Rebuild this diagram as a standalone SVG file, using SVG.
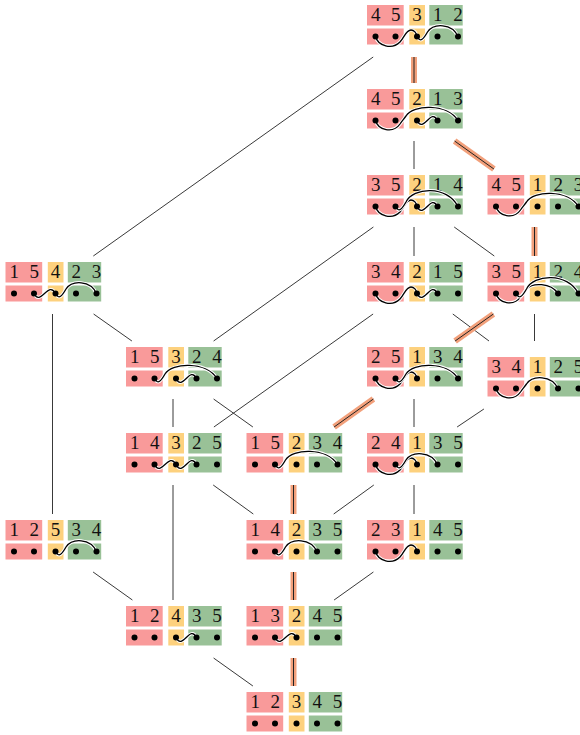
<svg xmlns="http://www.w3.org/2000/svg" width="580" height="735" viewBox="0 0 580 735">
<style>
.r{fill:#f99a9a}.y{fill:#fdd17e}.g{fill:#99c197}
.t{font-family:"Liberation Serif","Times New Roman",serif;font-size:19px;fill:#111;text-anchor:middle}
.h{fill:none;stroke:#fff;stroke-width:3.2}
.k{fill:none;stroke:#000;stroke-width:1.3;stroke-linecap:round}
.e{stroke:#222;stroke-width:0.9;fill:none}
.o{stroke:#f2a07b;stroke-width:6;fill:none}
.oc{stroke:#222;stroke-width:1;fill:none}
</style>
<defs>
<g id="bx">
<rect class="r" x="0" y="0" width="36.7" height="20.5"/>
<rect class="y" x="42.3" y="0" width="15.7" height="20.5"/>
<rect class="g" x="62.3" y="0" width="33.4" height="20.5"/>
<rect class="r" x="0" y="23.5" width="36.7" height="16"/>
<rect class="y" x="42.3" y="23.5" width="15.7" height="16"/>
<rect class="g" x="62.3" y="23.5" width="33.4" height="16"/>
</g>
<g id="dt" fill="#000">
<circle cx="8.5" cy="31.5" r="3"/><circle cx="28.5" cy="31.5" r="3"/><circle cx="50" cy="31.5" r="3"/><circle cx="70.5" cy="31.5" r="3"/><circle cx="91" cy="31.5" r="3"/>
</g>
<path id="a23" d="M28.5,31.5 C35,45 43,18 50,31.5"/>
<path id="a34" d="M50,31.5 C56.5,45 64,18 70.5,31.5"/>
<path id="a13" d="M8.5,31.5 C11,41 25,45 33,37 C37,33 39,25 44,25 C47,25 49.5,28 50,31.5"/>
<path id="a35" d="M50,31.5 C53.5,38 56.5,34 60.5,27 C66.5,18 85,18 91,31.5"/>
<path id="a24" d="M28.5,31.5 C32,38 35,34 39,27 C45,18 64,18 70.5,31.5"/>
<path id="a14" d="M8.5,31.5 C11,41 26,45 33,35 C35,32 36.5,30.5 39,27 C45,18 64,18 70.5,31.5"/>
<path id="a14i" d="M8.5,31.5 C11,41 26,45 33,35 C35,32 36.5,30.5 39,27 C45,20.5 63,20.5 70.5,31.5"/>
<path id="a15" d="M8.5,31.5 C11,41 26,45 33,35 C35,32 36.5,30.5 39,27 C46,15.5 80,14 91,31.5"/>
<path id="a25" d="M28.5,31.5 C32,38 35,34 39,27 C46,15.5 80,14 91,31.5"/>
<path id="a25h" d="M28.5,31.5 C32,38 35,34 39,27 C46,12 80,10 91,31.5"/>
</defs>

<g id="connectors">
<line class="e" x1="373.2" y1="57" x2="93.3" y2="256"/>
<line class="e" x1="414" y1="141" x2="414" y2="169"/>
<line class="e" x1="414" y1="227" x2="414" y2="256"/>
<line class="e" x1="454.2" y1="227" x2="494.3" y2="256"/>
<line class="e" x1="373.4" y1="227" x2="213.6" y2="341"/>
<line class="e" x1="93.6" y1="314" x2="131.9" y2="341"/>
<line class="e" x1="52.5" y1="314" x2="52.5" y2="514"/>
<line class="e" x1="373.1" y1="314" x2="213.9" y2="427"/>
<line class="e" x1="452.8" y1="314" x2="489" y2="341"/>
<line class="e" x1="534.5" y1="314" x2="534.5" y2="341"/>
<line class="e" x1="173" y1="399" x2="173" y2="427"/>
<line class="e" x1="213.6" y1="399" x2="252.9" y2="427"/>
<line class="e" x1="414" y1="399" x2="414" y2="427"/>
<line class="e" x1="483.9" y1="409" x2="457.1" y2="427"/>
<line class="e" x1="173" y1="485" x2="173" y2="600"/>
<line class="e" x1="213.2" y1="485" x2="253.3" y2="514"/>
<line class="e" x1="373.8" y1="485" x2="333.7" y2="514"/>
<line class="e" x1="414" y1="485" x2="414" y2="514"/>
<line class="e" x1="93.1" y1="572" x2="132.4" y2="600"/>
<line class="e" x1="373.4" y1="572" x2="334.1" y2="600"/>
<line class="e" x1="213.6" y1="658" x2="252.9" y2="686"/>
<g id="chain">
<line class="o" x1="414" y1="57" x2="414" y2="83"/><line class="oc" x1="414" y1="57" x2="414" y2="83"/>
<line class="o" x1="454.6" y1="141" x2="493.9" y2="169"/><line class="oc" x1="454.6" y1="141" x2="493.9" y2="169"/>
<line class="o" x1="534.5" y1="227" x2="534.5" y2="256"/><line class="oc" x1="534.5" y1="227" x2="534.5" y2="256"/>
<line class="o" x1="493.4" y1="314" x2="455.1" y2="341"/><line class="oc" x1="493.4" y1="314" x2="455.1" y2="341"/>
<line class="o" x1="373.4" y1="399" x2="334.1" y2="427"/><line class="oc" x1="373.4" y1="399" x2="334.1" y2="427"/>
<line class="o" x1="293.5" y1="485" x2="293.5" y2="514"/><line class="oc" x1="293.5" y1="485" x2="293.5" y2="514"/>
<line class="o" x1="293.5" y1="572" x2="293.5" y2="600"/><line class="oc" x1="293.5" y1="572" x2="293.5" y2="600"/>
<line class="o" x1="293.5" y1="658" x2="293.5" y2="686"/><line class="oc" x1="293.5" y1="658" x2="293.5" y2="686"/>
</g>
</g>

<g id="n45312" transform="translate(367,5)"><use href="#bx"/><text class="t" y="16.3"><tspan x="8.8">4</tspan><tspan x="28.8">5</tspan><tspan x="50">3</tspan><tspan x="70.8">1</tspan><tspan x="91">2</tspan></text><use href="#a35" class="h"/><use href="#a35" class="k"/><use href="#a13" class="h"/><use href="#a13" class="k"/><use href="#dt"/></g>
<g id="n45213" transform="translate(367,89)"><use href="#bx"/><text class="t" y="16.3"><tspan x="8.8">4</tspan><tspan x="28.8">5</tspan><tspan x="50">2</tspan><tspan x="70.8">1</tspan><tspan x="91">3</tspan></text><use href="#a34" class="h"/><use href="#a34" class="k"/><use href="#a15" class="h"/><use href="#a15" class="k"/><use href="#dt"/></g>
<g id="n35214" transform="translate(367,175)"><use href="#bx"/><text class="t" y="16.3"><tspan x="8.8">3</tspan><tspan x="28.8">5</tspan><tspan x="50">2</tspan><tspan x="70.8">1</tspan><tspan x="91">4</tspan></text><use href="#a34" class="h"/><use href="#a34" class="k"/><use href="#a13" class="h"/><use href="#a13" class="k"/><use href="#a25h" class="h"/><use href="#a25h" class="k"/><use href="#dt"/></g>
<g id="n45123" transform="translate(487.5,175)"><use href="#bx"/><text class="t" y="16.3"><tspan x="8.8">4</tspan><tspan x="28.8">5</tspan><tspan x="50">1</tspan><tspan x="70.8">2</tspan><tspan x="91">3</tspan></text><use href="#a15" class="h"/><use href="#a15" class="k"/><use href="#dt"/></g>
<g id="n15423" transform="translate(5.5,262)"><use href="#bx"/><text class="t" y="16.3"><tspan x="8.8">1</tspan><tspan x="28.8">5</tspan><tspan x="50">4</tspan><tspan x="70.8">2</tspan><tspan x="91">3</tspan></text><use href="#a23" class="h"/><use href="#a23" class="k"/><use href="#a35" class="h"/><use href="#a35" class="k"/><use href="#dt"/></g>
<g id="n34215" transform="translate(367,262)"><use href="#bx"/><text class="t" y="16.3"><tspan x="8.8">3</tspan><tspan x="28.8">4</tspan><tspan x="50">2</tspan><tspan x="70.8">1</tspan><tspan x="91">5</tspan></text><use href="#a34" class="h"/><use href="#a34" class="k"/><use href="#a13" class="h"/><use href="#a13" class="k"/><use href="#dt"/></g>
<g id="n35124" transform="translate(487.5,262)"><use href="#bx"/><text class="t" y="16.3"><tspan x="8.8">3</tspan><tspan x="28.8">5</tspan><tspan x="50">1</tspan><tspan x="70.8">2</tspan><tspan x="91">4</tspan></text><use href="#a14i" class="h"/><use href="#a14i" class="k"/><use href="#a25h" class="h"/><use href="#a25h" class="k"/><use href="#dt"/></g>
<g id="n15324" transform="translate(126,347)"><use href="#bx"/><text class="t" y="16.3"><tspan x="8.8">1</tspan><tspan x="28.8">5</tspan><tspan x="50">3</tspan><tspan x="70.8">2</tspan><tspan x="91">4</tspan></text><use href="#a34" class="h"/><use href="#a34" class="k"/><use href="#a25" class="h"/><use href="#a25" class="k"/><use href="#dt"/></g>
<g id="n25134" transform="translate(367,347)"><use href="#bx"/><text class="t" y="16.3"><tspan x="8.8">2</tspan><tspan x="28.8">5</tspan><tspan x="50">1</tspan><tspan x="70.8">3</tspan><tspan x="91">4</tspan></text><use href="#a13" class="h"/><use href="#a13" class="k"/><use href="#a25" class="h"/><use href="#a25" class="k"/><use href="#dt"/></g>
<g id="n34125" transform="translate(487.5,357)"><use href="#bx"/><text class="t" y="16.3"><tspan x="8.8">3</tspan><tspan x="28.8">4</tspan><tspan x="50">1</tspan><tspan x="70.8">2</tspan><tspan x="91">5</tspan></text><use href="#a14" class="h"/><use href="#a14" class="k"/><use href="#dt"/></g>
<g id="n14325" transform="translate(126,433)"><use href="#bx"/><text class="t" y="16.3"><tspan x="8.8">1</tspan><tspan x="28.8">4</tspan><tspan x="50">3</tspan><tspan x="70.8">2</tspan><tspan x="91">5</tspan></text><use href="#a23" class="h"/><use href="#a23" class="k"/><use href="#a34" class="h"/><use href="#a34" class="k"/><use href="#dt"/></g>
<g id="n15234" transform="translate(246.5,433)"><use href="#bx"/><text class="t" y="16.3"><tspan x="8.8">1</tspan><tspan x="28.8">5</tspan><tspan x="50">2</tspan><tspan x="70.8">3</tspan><tspan x="91">4</tspan></text><use href="#a25" class="h"/><use href="#a25" class="k"/><use href="#dt"/></g>
<g id="n24135" transform="translate(367,433)"><use href="#bx"/><text class="t" y="16.3"><tspan x="8.8">2</tspan><tspan x="28.8">4</tspan><tspan x="50">1</tspan><tspan x="70.8">3</tspan><tspan x="91">5</tspan></text><use href="#a13" class="h"/><use href="#a13" class="k"/><use href="#a24" class="h"/><use href="#a24" class="k"/><use href="#dt"/></g>
<g id="n12534" transform="translate(5.5,520)"><use href="#bx"/><text class="t" y="16.3"><tspan x="8.8">1</tspan><tspan x="28.8">2</tspan><tspan x="50">5</tspan><tspan x="70.8">3</tspan><tspan x="91">4</tspan></text><use href="#a35" class="h"/><use href="#a35" class="k"/><use href="#dt"/></g>
<g id="n14235" transform="translate(246.5,520)"><use href="#bx"/><text class="t" y="16.3"><tspan x="8.8">1</tspan><tspan x="28.8">4</tspan><tspan x="50">2</tspan><tspan x="70.8">3</tspan><tspan x="91">5</tspan></text><use href="#a24" class="h"/><use href="#a24" class="k"/><use href="#dt"/></g>
<g id="n23145" transform="translate(367,520)"><use href="#bx"/><text class="t" y="16.3"><tspan x="8.8">2</tspan><tspan x="28.8">3</tspan><tspan x="50">1</tspan><tspan x="70.8">4</tspan><tspan x="91">5</tspan></text><use href="#a13" class="h"/><use href="#a13" class="k"/><use href="#dt"/></g>
<g id="n12435" transform="translate(126,606)"><use href="#bx"/><text class="t" y="16.3"><tspan x="8.8">1</tspan><tspan x="28.8">2</tspan><tspan x="50">4</tspan><tspan x="70.8">3</tspan><tspan x="91">5</tspan></text><use href="#a34" class="h"/><use href="#a34" class="k"/><use href="#dt"/></g>
<g id="n13245" transform="translate(246.5,606)"><use href="#bx"/><text class="t" y="16.3"><tspan x="8.8">1</tspan><tspan x="28.8">3</tspan><tspan x="50">2</tspan><tspan x="70.8">4</tspan><tspan x="91">5</tspan></text><use href="#a23" class="h"/><use href="#a23" class="k"/><use href="#dt"/></g>
<g id="n12345" transform="translate(246.5,692)"><use href="#bx"/><text class="t" y="16.3"><tspan x="8.8">1</tspan><tspan x="28.8">2</tspan><tspan x="50">3</tspan><tspan x="70.8">4</tspan><tspan x="91">5</tspan></text><use href="#dt"/></g>
</svg>
